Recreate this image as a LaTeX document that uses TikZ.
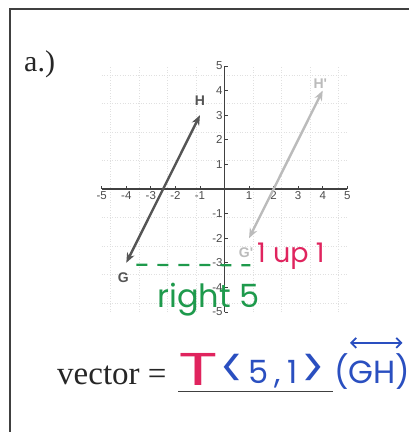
\documentclass[tikz,border=0pt]{standalone}
\usepackage{fontspec}
\setmainfont{Liberation Serif}
\newfontfamily\axfont{Liberation Sans}
\newfontfamily\hand{Poppins}
\usetikzlibrary{arrows.meta}
\definecolor{hred}{HTML}{E0245E}
\definecolor{hblue}{HTML}{2A4FC0}
\definecolor{hgreen}{HTML}{1E9A4C}
\definecolor{dark}{HTML}{555555}
\definecolor{light}{HTML}{BBBBBB}
\newcommand{\bigglyph}[1]{\raisebox{-5pt}{\scalebox{1.35}[1.8]{#1}}}
\tikzset{
  frameline/.style={draw=black!75, line width=1.4pt},
  serif/.style={text=black!85, inner sep=0pt},
  axisline/.style={draw=black!75, line width=1.1pt},
  ticklab/.style={font=\axfont\fontsize{11.5}{12}\selectfont, text=black!70, inner sep=1pt},
  ptlab/.style={font=\axfont\bfseries\fontsize{14}{14}\selectfont, inner sep=0pt},
  vecdark/.style={draw=dark, line width=2.4pt, {Stealth[length=10pt,width=8pt]}-{Stealth[length=10pt,width=8pt]}},
  veclight/.style={draw=light, line width=2.4pt, {Stealth[length=10pt,width=8pt]}-{Stealth[length=10pt,width=8pt]}},
  handtext/.style={inner sep=0pt, anchor=base west},
}
\begin{document}
\begin{tikzpicture}[x=1pt,y=-1pt]
\useasboundingbox (0,0) rectangle (409,432);
\fill[white] (0,0) rectangle (409,432);
% frame
\draw[frameline] (10,432) -- (10,9) -- (409,9);
% part label
\node[serif, anchor=base west, font=\fontsize{30}{32}\selectfont] (part) at (24,71) {a.)};
% graph
\begin{scope}[shift={(224.5,189)}, x=24.55pt, y=24.6pt]
  \draw[black!12, dotted, line width=0.6pt] (-5,-5) grid (5,5);
  \draw[axisline] (-5,0) -- (5,0);
  \draw[axisline] (0,-5) -- (0,5);
  \foreach \i in {-5,...,5} {
    \draw[black!75, line width=0.8pt] (\i,0) -- (\i,0.14);
    \draw[black!75, line width=0.8pt] (0,\i) -- (0.14,\i);
  }
  \foreach \i in {-5,-4,-3,-2,-1,1,2,3,4,5} {
    \node[ticklab, anchor=north] (xl\i) at (\i,-0.06) {\i};
    \node[ticklab, anchor=east] (yl\i) at (-0.03,\i) {\i};
  }
  \coordinate (G) at (-4,-3);
  \coordinate (H) at (-1,3);
  \coordinate (G2) at (1,-2);
  \coordinate (H2) at (4,4);
  \draw[vecdark] (G) -- (H);
  \draw[veclight] (G2) -- (H2);
  \node[ptlab, text=dark] (Glab) at (-4.12,-3.6) {G};
  \node[ptlab, text=dark] (Hlab) at (-1.0,3.6) {H};
  \node[ptlab, text=light] (G2lab) at (0.88,-2.6) {G'};
  \node[ptlab, text=light] (H2lab) at (3.9,4.3) {H'};
  \coordinate (dashend) at (1.05,-3.1);
  \draw[hgreen, line width=2.2pt, dash pattern=on 11pt off 10pt] ([xshift=10pt,yshift=-2pt]G) -- (dashend);
\end{scope}
% handwritten notes
\node[handtext, text=hred, font=\hand\fontsize{27}{27}\selectfont] (upone) at (257,262) {1 up 1};
\node[handtext, text=hgreen, font=\hand\fontsize{32}{32}\selectfont] (right) at (157,307) {right 5};
% vector line
\node[serif, anchor=base west, font=\fontsize{33}{35}\selectfont] (vec) at (57,384) {vector =};
\coordinate (ulA) at (178,391);
\coordinate (ulB) at (333,391);
\draw[black!75, line width=0.9pt] (ulA) -- (ulB);
\node[handtext, text=hred, font=\hand\fontsize{46}{46}\selectfont, xscale=1.6] (T) at (178,385) {T};
\node[handtext, text=hblue, font=\hand\fontsize{32}{32}\selectfont] (comp) at (220,383)
  {\bigglyph{<}\hspace{4pt}5\hspace{6pt},\hspace{7pt}1\hspace{4pt}\bigglyph{>}};
\node[handtext, text=hblue, font=\hand\fontsize{32}{32}\selectfont] (gh) at (334,383) {(GH)};
\draw[hblue, line width=1.8pt, {Straight Barb[length=5pt]}-{Straight Barb[length=5pt]}] ([xshift=16pt,yshift=10pt]gh.north west) -- ([xshift=-8pt,yshift=10pt]gh.north east);
\end{tikzpicture}
\end{document}
